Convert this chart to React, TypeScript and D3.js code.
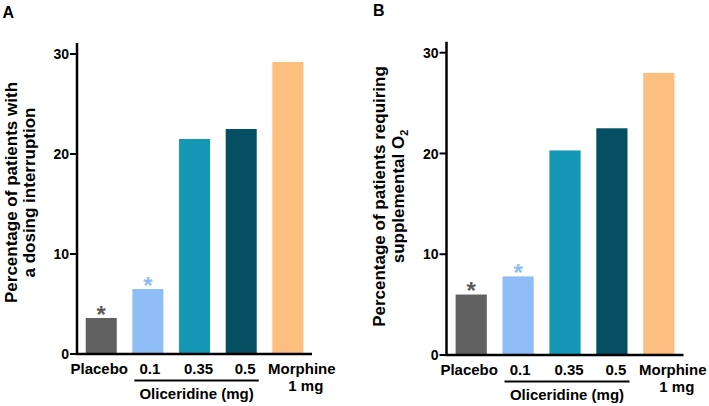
import React from "react";
import * as d3 from "d3";

const categories = ["Placebo", "0.1", "0.35", "0.5", "Morphine"];
const dosingInterruption = [3.6, 6.5, 21.5, 22.5, 29.2];
const supplementalO2 = [6.0, 7.8, 20.3, 22.5, 28.0];
const yTicks = [0, 10, 20, 30];
const barColors = ["#616161", "#8fbdf6", "#1497b4", "#064f62", "#fdbf80"];
const starColors = ["#5a5a5a", "#8cbcf3", null, null, null];

const FONT = "'Liberation Sans', Arial, Helvetica, sans-serif";
const labelDx = [-2, 2, 4, 4, 14];

type PanelProps = {
  letter: string;
  letterX: number;
  letterY: number;
  values: number[];
  axisX: number;
  axisEnd: number;
  bandStart: number;
  bandEnd: number;
  y0: number;
  y30: number;
  yTop: number;
  labelLines: React.ReactNode[];
  labelBaselines: number[];
  labelCenterY: number;
};

function Panel(p: PanelProps) {
  const x = d3
    .scaleBand<string>()
    .domain(categories)
    .range([p.bandStart, p.bandEnd])
    .paddingInner(0.335)
    .paddingOuter(0.1675);
  const y = d3.scaleLinear().domain([0, 30]).range([p.y0, p.y30]);
  const bw = x.bandwidth();
  const lblY = p.y0 + 20;
  return (
    <g fontFamily={FONT} fontWeight="bold">
      <text x={p.letterX} y={p.letterY} fontSize={16}>
        {p.letter}
      </text>
      {categories.map((c, i) => (
        <rect
          key={c}
          x={x(c)}
          y={y(p.values[i])}
          width={bw}
          height={y(0) - y(p.values[i])}
          fill={barColors[i]}
        />
      ))}
      {categories.map((c, i) =>
        starColors[i] ? (
          <text
            key={"s" + c}
            x={(x(c) as number) + bw / 2}
            y={y(p.values[i]) + 4.5}
            fontSize={24}
            textAnchor="middle"
            fill={starColors[i] as string}
          >
            *
          </text>
        ) : null
      )}
      {/* y axis */}
      <line x1={p.axisX} x2={p.axisX} y1={p.yTop} y2={y(0) + 1} stroke="#000" strokeWidth={2.5} />
      {yTicks.map((t) => (
        <g key={t}>
          <line x1={p.axisX - 7} x2={p.axisX} y1={y(t)} y2={y(t)} stroke="#000" strokeWidth={2} />
          <text x={p.axisX - 8} y={y(t)} dy="0.36em" textAnchor="end" fontSize={14}>
            {t}
          </text>
        </g>
      ))}
      {/* x axis */}
      <line x1={p.axisX - 1} x2={p.axisEnd} y1={y(0)} y2={y(0)} stroke="#000" strokeWidth={2.5} />
      {categories.map((c, i) => (
        <text
          key={"l" + c}
          x={(x(c) as number) + bw / 2 + labelDx[i]}
          y={lblY}
          fontSize={15}
          textAnchor="middle"
        >
          {c}
        </text>
      ))}
      <text
        x={(x("Morphine") as number) + bw / 2 + labelDx[4] + 4}
        y={p.y0 + 36.5}
        fontSize={15}
        textAnchor="middle"
      >
        1 mg
      </text>
      <line
        x1={(x("0.1") as number) + 2}
        x2={(x("0.5") as number) + bw + 2}
        y1={p.y0 + 26.5}
        y2={p.y0 + 26.5}
        stroke="#000"
        strokeWidth={2}
      />
      <text
        x={((x("0.1") as number) + (x("0.5") as number) + bw) / 2 + 2}
        y={p.y0 + 45}
        fontSize={15}
        textAnchor="middle"
      >
        Oliceridine (mg)
      </text>
      {p.labelLines.map((ln, i) => (
        <text
          key={"y" + i}
          transform={`translate(${p.labelBaselines[i]},${p.labelCenterY}) rotate(-90)`}
          textAnchor="middle"
          fontSize={17}
        >
          {ln}
        </text>
      ))}
    </g>
  );
}

export default function App() {
  return (
    <svg
      width={709}
      height={406}
      style={{ position: "absolute", left: 0, top: 0, background: "#fff" }}
    >
      <rect width={709} height={406} fill="#fff" />
      <Panel
        letter="A"
        letterX={2.5}
        letterY={17.5}
        values={dosingInterruption}
        axisX={77}
        axisEnd={312}
        bandStart={77.9}
        bandEnd={311.2}
        y0={354}
        y30={54}
        yTop={43}
        labelLines={["Percentage of patients with", "a dosing interruption"]}
        labelBaselines={[16.5, 34.5]}
        labelCenterY={192.5}
      />
      <Panel
        letter="B"
        letterX={373}
        letterY={15.5}
        values={supplementalO2}
        axisX={446.5}
        axisEnd={683.5}
        bandStart={447.75}
        bandEnd={682.25}
        y0={355}
        y30={52.7}
        yTop={41.7}
        labelLines={[
          "Percentage of patients requiring",
          <>
            <tspan>supplemental O</tspan>
            <tspan fontSize={11} dy={4}>2</tspan>
          </>,
        ]}
        labelBaselines={[384.5, 403.5]}
        labelCenterY={196.5}
      />
    </svg>
  );
}
